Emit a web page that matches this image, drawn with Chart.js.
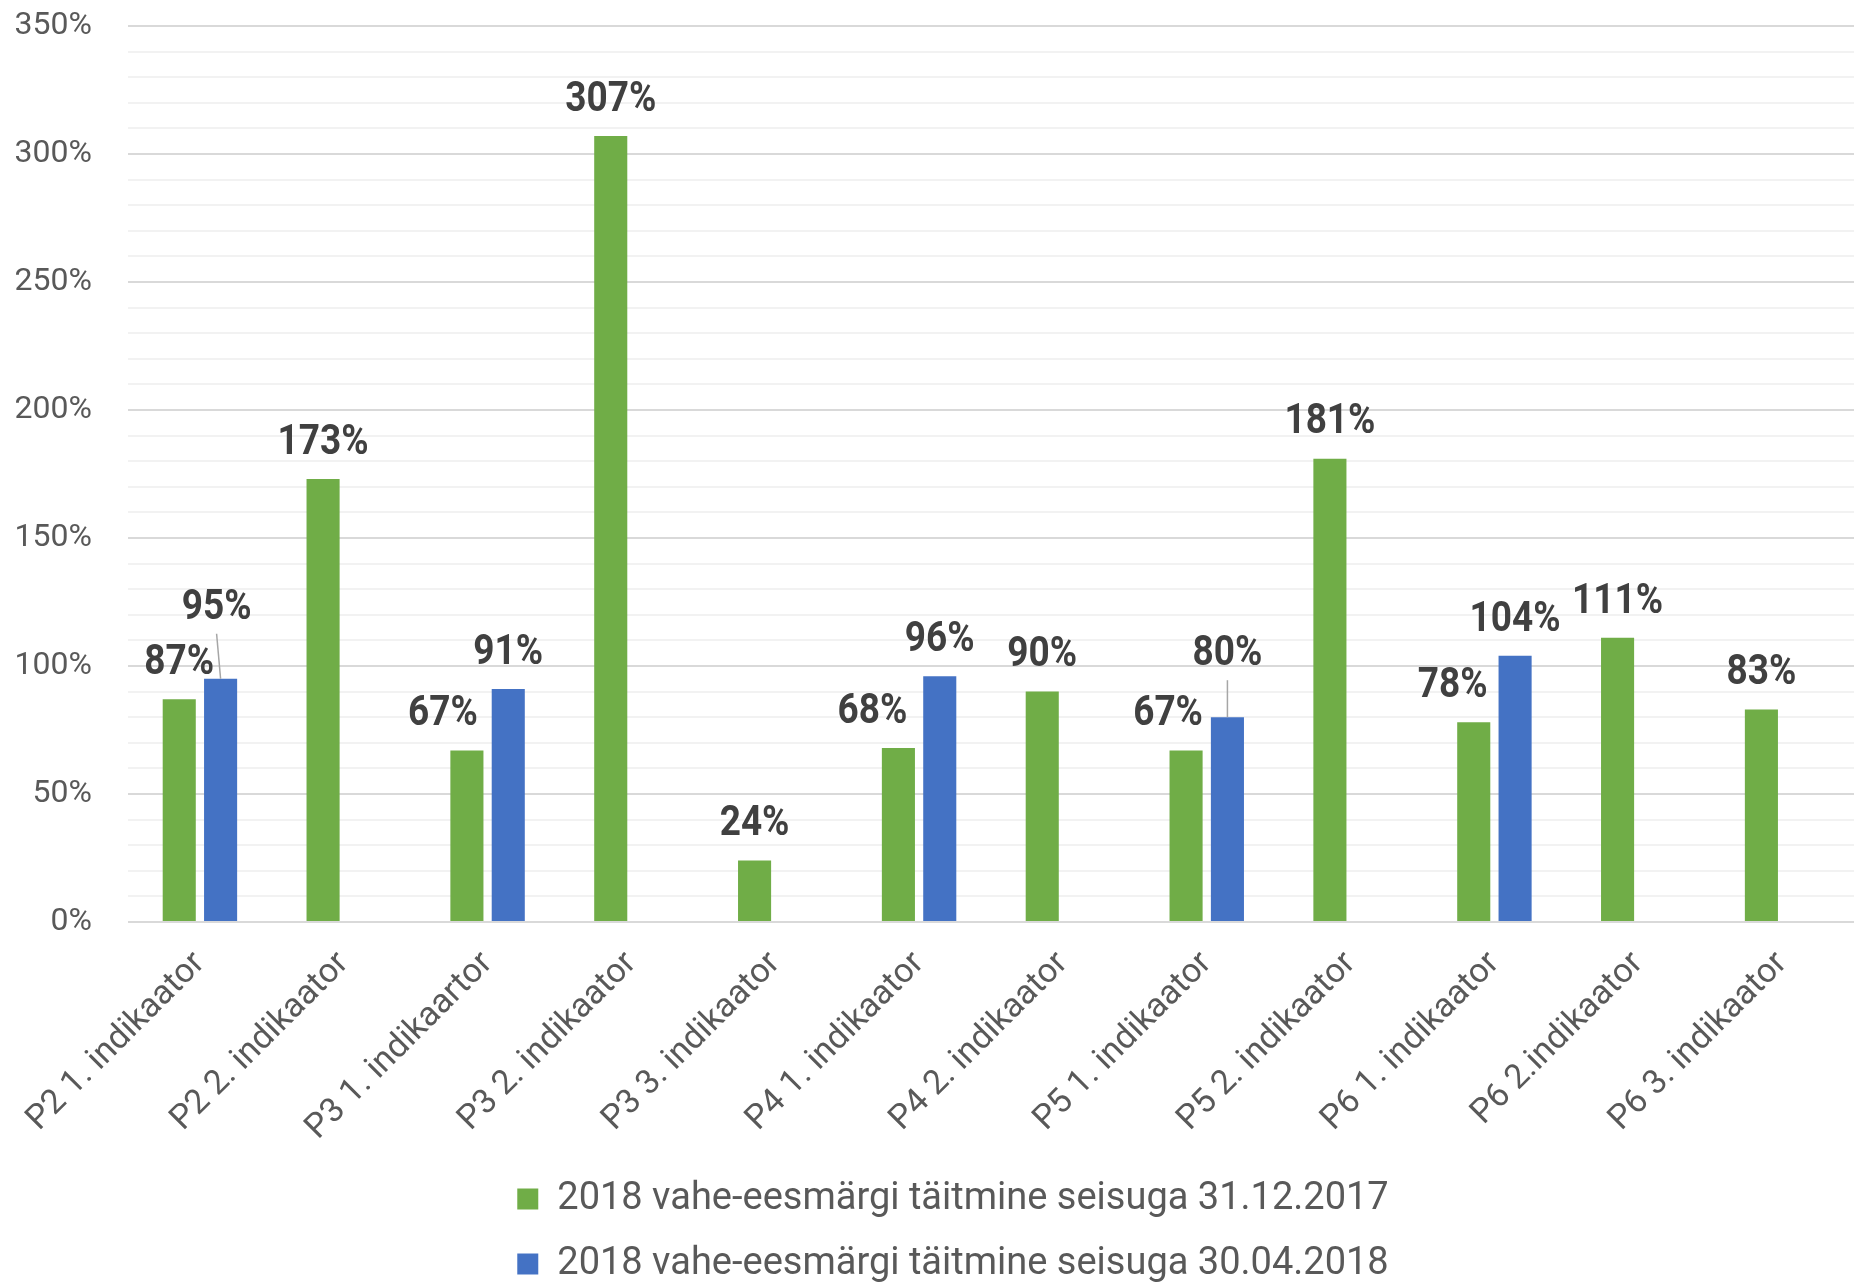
<!DOCTYPE html>
<html>
<head>
<meta charset="utf-8">
<script src="https://cdn.jsdelivr.net/npm/chart.js@4.4.1/dist/chart.umd.min.js"></script>
<style>
  html, body { margin: 0; padding: 0; background: #fff; }
  canvas { display: block; }
</style>
</head>
<body>
<canvas id="chart" width="1854" height="1285"></canvas>
<script>
// categories and the two series (percent of the 2018 milestone)
const categories = [
  'P2 1. indikaator', 'P2 2. indikaator', 'P3 1. indikaartor', 'P3 2. indikaator',
  'P3 3. indikaator', 'P4 1. indikaator', 'P4 2. indikaator', 'P5 1. indikaator',
  'P5 2. indikaator', 'P6 1. indikaator', 'P6 2.indikaator', 'P6 3. indikaator'
];
const seriesNames = [
  '2018 vahe-eesmärgi täitmine seisuga 31.12.2017',
  '2018 vahe-eesmärgi täitmine seisuga 30.04.2018'
];
const dec2017 = [87, 173, 67, 307, 24, 68, 90, 67, 181, 78, 111, 83];
const apr2018 = [95, null, 91, null, null, 96, null, 80, null, 104, null, null];
const yTicks = [0, 50, 100, 150, 200, 250, 300, 350];

// hand-moved value labels, like in the original workbook: "dataset-index": [dx, dy, leader]
const labelMoves = {
  '0-2': [-24, 0], '0-5': [-26, 0], '0-7': [-18, 0], '0-9': [-21, 0],
  '1-0': [-4, -35, true], '1-7': [0, -27, true]
};

// bold condensed-looking value labels (Roboto squeezed a bit)
const valueLabels = {
  id: 'valueLabels',
  afterDatasetsDraw(chart) {
    const ctx = chart.ctx;
    const squeeze = 0.86;
    ctx.save();
    ctx.font = 'bold 43px Roboto';
    ctx.fillStyle = '#404040';
    ctx.textAlign = 'center';
    ctx.textBaseline = 'middle';
    chart.data.datasets.forEach((ds, di) => {
      chart.getDatasetMeta(di).data.forEach((bar, i) => {
        const v = ds.data[i];
        if (v === null || v === undefined) return;
        const mv = labelMoves[di + '-' + i] || [0, 0];
        const x = bar.x + mv[0];
        const y = bar.y - 36 + mv[1];
        if (mv[2]) {
          ctx.strokeStyle = '#a6a6a6';
          ctx.lineWidth = 1.5;
          ctx.beginPath();
          ctx.moveTo(x, y + 26);
          ctx.lineTo(bar.x, bar.y);
          ctx.stroke();
        }
        ctx.save();
        ctx.translate(x, y);
        ctx.scale(squeeze, 1);
        ctx.fillText(v + '%', 0, 0);
        ctx.restore();
      });
    });
    ctx.restore();
  }
};

// nudge the two-row legend a little to the left, as in the original
const legendShift = {
  id: 'legendShift',
  afterLayout(chart) {
    if (chart.legend) {
      chart.legend.left -= 38;
      chart.legend.right -= 38;
    }
  }
};

new Chart(document.getElementById('chart'), {
  type: 'bar',
  data: {
    labels: categories,
    datasets: [
      { label: seriesNames[0], data: dec2017, backgroundColor: '#70ad47' },
      { label: seriesNames[1], data: apr2018, backgroundColor: '#4472c4' }
    ]
  },
  options: {
    responsive: false,
    devicePixelRatio: 1,
    animation: false,
    categoryPercentage: 0.575,
    barPercentage: 0.8,
    layout: { padding: { top: 26, right: 0, left: 0, bottom: -8 } },
    plugins: {
      tooltip: { enabled: false },
      legend: {
        position: 'bottom',
        fullSize: false,
        labels: {
          boxWidth: 21,
          boxHeight: 21,
          padding: 27,
          color: '#595959',
          font: { family: 'Roboto', size: 38 }
        }
      }
    },
    scales: {
      x: {
        grid: { display: false },
        border: { display: false },
        ticks: {
          minRotation: 45,
          maxRotation: 45,
          autoSkip: false,
          padding: 14,
          color: '#595959',
          font: { family: 'Roboto', size: 34 }
        },
        afterFit(scale) { scale.height = 231; }
      },
      y: {
        min: 0,
        max: 350,
        border: { display: false },
        grid: {
          drawTicks: false,
          lineWidth: 2,
          color: (c) => (yTicks.includes(c.tick.value) ? '#d9d9d9' : '#f2f2f2')
        },
        ticks: {
          stepSize: 10,
          autoSkip: false,
          padding: 36,
          color: '#595959',
          font: { family: 'Roboto', size: 32 },
          callback: (v) => (yTicks.includes(v) ? v + '%' : '')
        },
        afterFit(scale) {
          scale.width = 128;
          scale.paddingTop = 0;
          scale.paddingBottom = 0;
        }
      }
    }
  },
  plugins: [valueLabels, legendShift]
});
</script>
</body>
</html>
